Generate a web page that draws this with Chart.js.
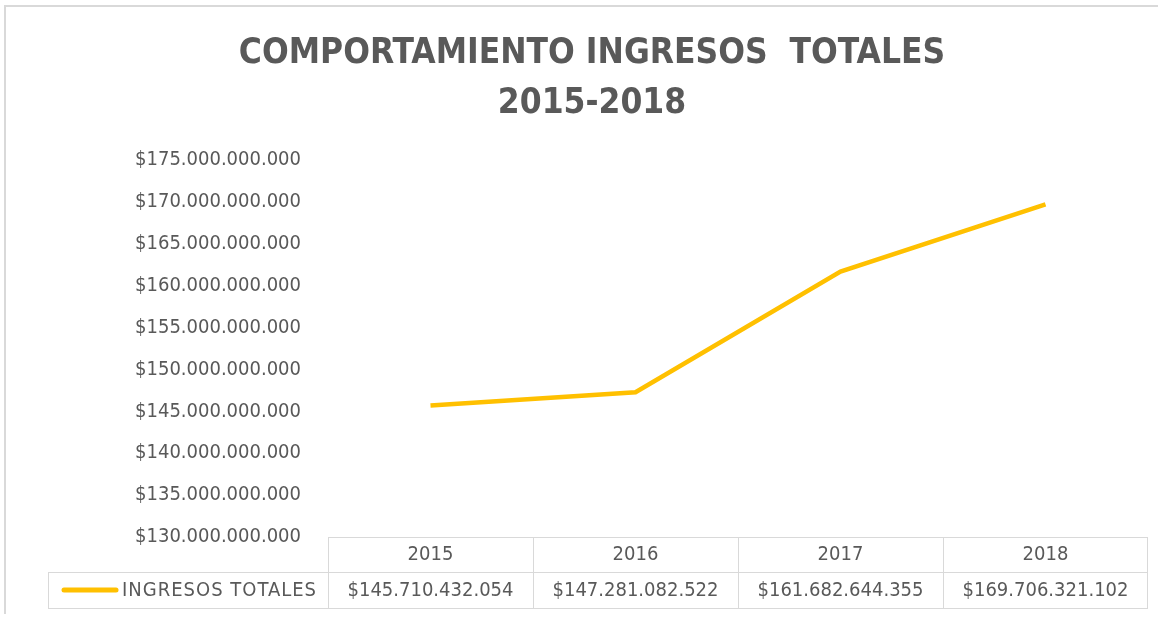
<!DOCTYPE html>
<html>
<head>
<meta charset="utf-8">
<script src="https://cdn.jsdelivr.net/npm/chart.js@4/dist/chart.umd.min.js"></script>
<style>
  body { margin: 0; background: #fff; }
  #wrap { position: relative; width: 1158px; height: 620px; }
  #frame { position: absolute; left: 4px; top: 5px; right: 0; bottom: 6px;
           border-top: 2px solid #d9d9d9; border-left: 2px solid #d9d9d9; }
</style>
</head>
<body>
<div id="wrap">
  <div id="frame"></div>
  <canvas id="myChart"></canvas>
</div>
<script>
// chart data
const years = ['2015', '2016', '2017', '2018'];
const ingresos = [145710432054, 147281082522, 161682644355, 169706321102];
const seriesName = 'INGRESOS TOTALES';
const titleLines = ['COMPORTAMIENTO INGRESOS  TOTALES', '2015-2018'];
const yMin = 130000000000;
const yMax = 175000000000;
const yStep = 5000000000;

const FONT = "'Liberation Sans Narrow', 'Arial Narrow', 'DejaVu Sans Condensed', sans-serif";
const TEXT = '#595959';
const GOLD = '#FFC000';
const GRID = '#d9d9d9';

// 175000000000 -> $175.000.000.000
function money(v) {
  return '$' + Math.round(v).toString().replace(/\B(?=(\d{3})+(?!\d))/g, '.');
}

// data table under the plot (years row comes from the x axis)
const dataTable = {
  id: 'dataTable',
  afterDraw(chart) {
    const c = chart.ctx;
    const xs = chart.scales.x;
    const area = chart.chartArea;
    const colW = xs.getPixelForValue(1) - xs.getPixelForValue(0);
    const top = area.bottom;
    const mid = top + 35;
    const bot = top + 71;
    const legLeft = 48;

    c.save();
    c.strokeStyle = GRID;
    c.lineWidth = 1;
    c.beginPath();
    c.moveTo(area.left, top + 0.5); c.lineTo(area.right, top + 0.5);
    c.moveTo(legLeft, mid + 0.5); c.lineTo(area.right, mid + 0.5);
    c.moveTo(legLeft, bot + 0.5); c.lineTo(area.right, bot + 0.5);
    c.moveTo(legLeft + 0.5, mid); c.lineTo(legLeft + 0.5, bot);
    years.forEach((y, i) => {
      const x = Math.round(xs.getPixelForValue(i) - colW / 2) + 0.5;
      c.moveTo(x, top); c.lineTo(x, bot);
    });
    c.moveTo(area.right - 0.5, top); c.lineTo(area.right - 0.5, bot);
    c.stroke();

    c.fillStyle = TEXT;
    c.font = '20px ' + FONT;
    c.textAlign = 'center';
    c.textBaseline = 'middle';
    ingresos.forEach((v, i) => {
      c.fillText(money(v), xs.getPixelForValue(i), (mid + bot) / 2 + 1);
    });

    // legend key
    c.strokeStyle = GOLD;
    c.lineWidth = 5;
    c.lineCap = 'round';
    c.beginPath();
    c.moveTo(64, (mid + bot) / 2); c.lineTo(116, (mid + bot) / 2);
    c.stroke();
    c.textAlign = 'left';
    c.letterSpacing = '1px';
    c.fillText(seriesName, 122, (mid + bot) / 2 + 1);
    c.restore();
  }
};

const ctx = document.getElementById('myChart').getContext('2d');

const myChart = new Chart(ctx, {
  type: 'line',
  data: {
    labels: years,
    datasets: [{
      label: seriesName,
      data: ingresos,
      borderColor: GOLD,
      backgroundColor: GOLD,
      borderWidth: 4.5,
      pointRadius: 0,
      tension: 0,
      fill: false
    }]
  },
  options: {
    responsive: true,
    maintainAspectRatio: false,
    animation: false,
    layout: {
      padding: { left: 36, right: 10, top: 0, bottom: 47 }
    },
    plugins: {
      legend: { display: false },
      tooltip: { enabled: false },
      title: {
        display: true,
        text: titleLines,
        color: TEXT,
        font: { family: FONT, size: 35, weight: 'bold', lineHeight: 1.43 },
        padding: { top: 29, bottom: 31 }
      }
    },
    scales: {
      x: {
        offset: true,
        grid: { display: false, drawTicks: false },
        border: { display: false },
        ticks: {
          color: TEXT,
          font: { family: FONT, size: 20 },
          padding: 6
        }
      },
      y: {
        min: yMin,
        max: yMax,
        grid: { display: false, drawTicks: false },
        border: { display: false },
        afterFit(scale) { scale.width = 292; },
        ticks: {
          stepSize: yStep,
          color: TEXT,
          padding: 27,
          font: { family: FONT, size: 20 },
          callback: function(value) {
            return money(value);
          }
        }
      }
    }
  },
  plugins: [dataTable]
});
</script>
</body>
</html>
